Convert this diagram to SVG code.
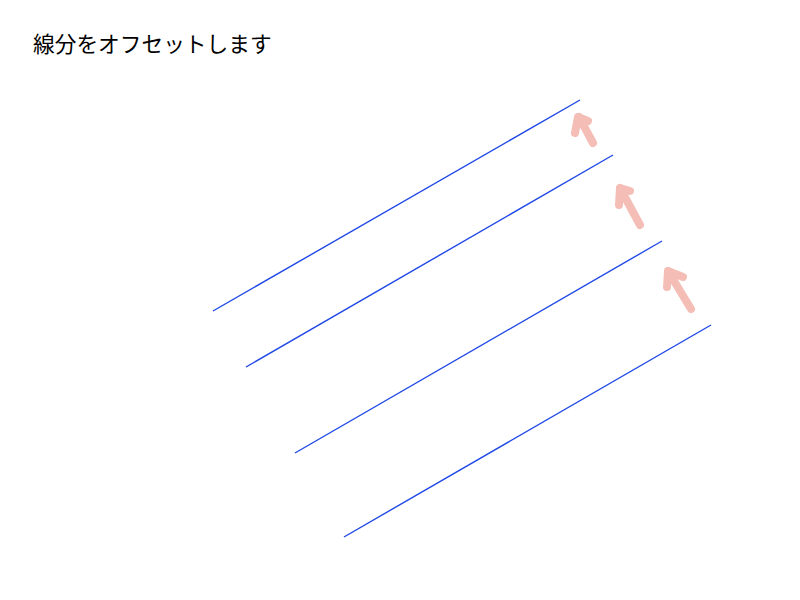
<svg xmlns="http://www.w3.org/2000/svg" width="800" height="600" viewBox="0 0 800 600">
<style>
.seg{stroke:#1f48e6;stroke-width:1.4;fill:none}
.arr{stroke:#f2b3aa;stroke-width:8;fill:none;stroke-linecap:round;stroke-linejoin:round;opacity:0.85}
.title{font-family:"Noto Sans CJK JP","Noto Sans CJK SC",sans-serif;font-size:21.7px;fill:#000}
</style>
<rect width="800" height="600" fill="#fff"/>
<text class="title" x="33" y="52">線分をオフセットします</text>
<g id="connectors">
<line class="seg" x1="213" y1="311" x2="580" y2="100"/>
<line class="seg" x1="246" y1="367" x2="613" y2="155"/>
<line class="seg" x1="295" y1="453" x2="662" y2="241"/>
<line class="seg" x1="344" y1="537" x2="711" y2="325"/>
</g>
<g id="arrows">
<path class="arr" d="M593,143 L579,117 M575,133 L578,117 L588,121"/>
<path class="arr" d="M640,225 L620,188 M619,205 L620,188 L630,191"/>
<path class="arr" d="M691,309 L668,271 M667,287 L668,271 L683,277"/>
</g>
</svg>
